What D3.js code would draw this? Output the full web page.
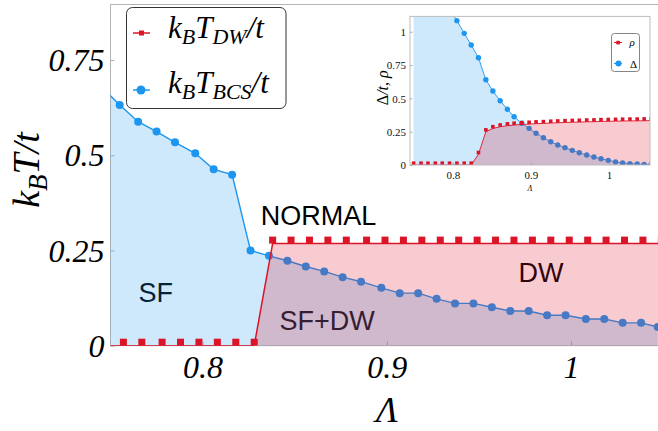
<!DOCTYPE html>
<html><head><meta charset="utf-8">
<script src="https://cdn.jsdelivr.net/npm/d3@7"></script>
<style>
html,body{margin:0;padding:0;background:#fff;}
svg{display:block;}
</style></head><body>
<svg id="chart" width="658" height="431"></svg>
<script>
// ---------------- data ----------------
const lambdaBCS = [0.745,0.755,0.765,0.775,0.785,0.796,0.806,0.816,0.826,0.836,0.846,0.856,0.866,0.876,0.886,0.897,0.907,0.917,0.927,0.937,0.947,0.957,0.967,0.977,0.987,0.997,1.008,1.018,1.028,1.038,1.047];
const tBCS = [0.68,0.632,0.588,0.562,0.534,0.505,0.463,0.449,0.250,0.236,0.223,0.208,0.195,0.180,0.168,0.152,0.138,0.138,0.123,0.111,0.111,0.101,0.091,0.091,0.080,0.080,0.070,0.070,0.060,0.060,0.049];
const lambdaDW = [0.747,0.757,0.767,0.778,0.788,0.798,0.808,0.818,0.828,0.838,0.848,0.858,0.868,0.878,0.889,0.899,0.909,0.919,0.929,0.939,0.949,0.959,0.969,0.979,0.989,0.999,1.009,1.019,1.029,1.039,1.049];
const tDW = [0,0,0,0,0,0,0,0,0,0.268,0.268,0.268,0.268,0.268,0.268,0.268,0.268,0.268,0.268,0.268,0.268,0.268,0.268,0.268,0.268,0.268,0.268,0.268,0.268,0.268,0.268];
const xTickValues = [0.8,0.9,1];
const xTickLabels = ["0.8","0.9","1"];
const yTickValues = [0,0.25,0.5,0.75];
const yTickLabels = ["0","0.25","0.5","0.75"];
const phaseNames = ["NORMAL","SF","SF+DW","DW"];

// inset
const lambdaInset = [0.7496,0.7591,0.768,0.7774,0.7863,0.7957,0.8051,0.8145,0.8234,0.8327,0.8422,0.8512,0.8605,0.8698,0.8784,0.8882,0.8976,0.9065,0.9159,0.9253,0.9343,0.9436,0.9529,0.9619,0.9714,0.9807,0.9897,0.999,1.0084,1.0174,1.0268,1.0361,1.045,1.054];
const deltaInset = [1.62,1.53,1.44,1.35,1.26,1.17,1.083,0.988,0.900,0.805,0.640,0.555,0.482,0.418,0.362,0.313,0.275,0.238,0.205,0.175,0.150,0.130,0.110,0.092,0.075,0.060,0.047,0.035,0.023,0.015,0.010,0.0075,0.005,0.003];
const rhoInset = [0,0,0,0,0,0,0,0,0,0.08,0.25,0.274,0.287,0.295,0.300,0.304,0.307,0.310,0.312,0.315,0.317,0.319,0.321,0.322,0.324,0.325,0.327,0.328,0.329,0.330,0.331,0.331,0.332,0.333];
const insetXTickValues = [0.8,0.9,1];
const insetXTickLabels = ["0.8","0.9","1"];
const insetYTickValues = [0,0.25,0.5,0.75,1];
const insetYTickLabels = ["0","0.25","0.5","0.75","1"];

// ---------------- styles ----------------
const BLUE = "#1e96f0", RED = "#dc1428", FRAME = "#b4b4b4";
const FILL_OP = 0.22;
const SERIF = "'Liberation Serif','Times New Roman',serif";
const SANS = "'Liberation Sans',Arial,sans-serif";

const svg = d3.select("#chart");

function rich(sel, parts, subSize, shift) {
  let cur = 0;
  parts.forEach(p => {
    const ts = sel.append("tspan").text(p.t);
    if (p.it === false) ts.attr("font-style", "normal");
    if (p.sub) { ts.attr("font-size", subSize).attr("dy", shift - cur); cur = shift; }
    else { ts.attr("dy", -cur); cur = 0; }
  });
}

// ---------------- main plot ----------------
const x = d3.scaleLinear().domain([0.75, 1.05]).range([110.5, 663.2]);
const y = d3.scaleLinear().domain([0, 0.897]).range([345.7, 4]);
const bcs = lambdaBCS.map((l, i) => ({x: l, y: tBCS[i]}));
const dw = lambdaDW.map((l, i) => ({x: l, y: tDW[i]}));

svg.append("clipPath").attr("id", "mainClip").append("rect")
  .attr("x", x.range()[0]).attr("y", y.range()[1])
  .attr("width", x.range()[1] - x.range()[0]).attr("height", y.range()[0] - y.range()[1]);

// axes
const gx = svg.append("g").attr("transform", `translate(0,${y(0)})`)
  .call(d3.axisBottom(x).tickValues(xTickValues).tickFormat((d, i) => xTickLabels[i]).tickSize(-4).tickPadding(0));
const gy = svg.append("g").attr("transform", `translate(${x.range()[0]},0)`)
  .call(d3.axisLeft(y).tickValues(yTickValues).tickFormat((d, i) => yTickLabels[i]).tickSize(-4).tickPadding(6));
[gx, gy].forEach(g => {
  g.select(".domain").remove();
  g.selectAll(".tick line").attr("stroke", FRAME);
  g.selectAll("text").attr("font-family", SERIF).attr("font-style", "italic")
    .attr("font-size", 32).attr("fill", "#000");
});
gx.selectAll("text").attr("y", 32.5).attr("dy", 0);
gy.selectAll("text").attr("dy", "0.33em");

// frame lines
const fr = svg.append("g").attr("stroke", FRAME).attr("stroke-width", 1).attr("fill", "none");
fr.append("line").attr("x1", x.range()[0]).attr("x2", x.range()[0]).attr("y1", y.range()[1]).attr("y2", y.range()[0]);
fr.append("line").attr("x1", x.range()[0]).attr("x2", x.range()[1]).attr("y1", y.range()[0]).attr("y2", y.range()[0]);
fr.append("line").attr("x1", x.range()[0]).attr("x2", x.range()[1]).attr("y1", y.range()[1] + 0.5).attr("y2", y.range()[1] + 0.5);

// phase labels (black, tinted by the fills drawn on top)
const lab = svg.append("g").attr("font-family", SANS).attr("font-size", 27).attr("fill", "#000");
lab.append("text").attr("x", x(0.8316)).attr("y", y(0.317)).text(phaseNames[0]);
lab.append("text").attr("x", x(0.7652)).attr("y", y(0.116)).text(phaseNames[1]);
lab.append("text").attr("x", x(0.8417)).attr("y", y(0.041)).text(phaseNames[2]);
lab.append("text").attr("x", x(0.9714)).attr("y", y(0.168)).text(phaseNames[3]);

const plot = svg.append("g").attr("clip-path", "url(#mainClip)");
const area = d3.area().x(d => x(d.x)).y0(y(0)).y1(d => y(d.y));
const line = d3.line().x(d => x(d.x)).y(d => y(d.y));

plot.append("path").datum(bcs).attr("d", area).attr("fill", BLUE).attr("fill-opacity", FILL_OP);
plot.append("path").datum(bcs).attr("d", line).attr("fill", "none").attr("stroke", BLUE).attr("stroke-width", 1.4);
plot.selectAll("circle.bcs").data(bcs).join("circle").attr("class", "bcs")
  .attr("cx", d => x(d.x)).attr("cy", d => y(d.y)).attr("r", 4).attr("fill", BLUE);
plot.append("path").datum(dw).attr("d", area).attr("fill", RED).attr("fill-opacity", FILL_OP);
plot.append("path").datum(dw).attr("d", line).attr("fill", "none").attr("stroke", RED).attr("stroke-width", 1.5);
const sq = 7;
plot.selectAll("rect.dw").data(dw).join("rect").attr("class", "dw")
  .attr("x", d => x(d.x) - sq / 2).attr("y", d => y(d.y) - sq).attr("width", sq).attr("height", sq).attr("fill", RED);

// axis titles
svg.append("text").attr("x", (x.range()[0] + x.range()[1]) / 2).attr("y", 422)
  .attr("text-anchor", "middle").attr("font-family", SERIF).attr("font-style", "italic")
  .attr("font-size", 36).text("Λ");
const yt = svg.append("text").attr("transform", "translate(39,170) rotate(-90)")
  .attr("text-anchor", "middle").attr("font-family", SERIF).attr("font-style", "italic").attr("font-size", 38);
rich(yt, [{t: "k"}, {t: "B", sub: true}, {t: "T/t"}], 27, 8);

// legend
const lg = svg.append("g");
lg.append("rect").attr("x", 126.5).attr("y", 7.5).attr("width", 159.5).attr("height", 101).attr("rx", 6)
  .attr("fill", "#fff").attr("stroke", "#333").attr("stroke-width", 1);
lg.append("line").attr("x1", 133).attr("x2", 150).attr("y1", 33).attr("y2", 33).attr("stroke", RED).attr("stroke-width", 1.5);
lg.append("rect").attr("x", 139).attr("y", 30.5).attr("width", 5).attr("height", 5).attr("fill", RED);
lg.append("line").attr("x1", 133).attr("x2", 150).attr("y1", 90).attr("y2", 90).attr("stroke", BLUE).attr("stroke-width", 1.5);
lg.append("circle").attr("cx", 141).attr("cy", 90).attr("r", 4.5).attr("fill", BLUE);
const l1 = lg.append("text").attr("x", 168).attr("y", 38).attr("font-family", SERIF).attr("font-style", "italic").attr("font-size", 31);
rich(l1, [{t: "k"}, {t: "B", sub: true}, {t: "T"}, {t: "DW", sub: true}, {t: "/t"}], 22, 6);
const l2 = lg.append("text").attr("x", 168).attr("y", 93).attr("font-family", SERIF).attr("font-style", "italic").attr("font-size", 31);
rich(l2, [{t: "k"}, {t: "B", sub: true}, {t: "T"}, {t: "BCS", sub: true}, {t: "/t"}], 22, 6);

// ---------------- inset ----------------
const xi = d3.scaleLinear().domain([0.745, 1.0525]).range([410, 650]);
const yi = d3.scaleLinear().domain([0, 1.115]).range([165, 16.4]);
const dInset = lambdaInset.map((l, i) => ({x: l, y: deltaInset[i]}));
const rInset = lambdaInset.map((l, i) => ({x: l, y: rhoInset[i]}));

svg.append("clipPath").attr("id", "insetClip").append("rect")
  .attr("x", xi.range()[0]).attr("y", yi.range()[1])
  .attr("width", xi.range()[1] - xi.range()[0]).attr("height", yi.range()[0] - yi.range()[1]);

const ins = svg.append("g");
ins.append("rect").attr("x", xi.range()[0]).attr("y", yi.range()[1])
  .attr("width", xi.range()[1] - xi.range()[0]).attr("height", yi.range()[0] - yi.range()[1]).attr("fill", "#fff");

const ip = ins.append("g").attr("clip-path", "url(#insetClip)");
const areaI = d3.area().x(d => xi(d.x)).y0(yi(0)).y1(d => yi(d.y));
const lineI = d3.line().x(d => xi(d.x)).y(d => yi(d.y));
ip.append("path").datum(dInset).attr("d", areaI).attr("fill", BLUE).attr("fill-opacity", FILL_OP);
ip.append("path").datum(dInset).attr("d", lineI).attr("fill", "none").attr("stroke", BLUE).attr("stroke-width", 0.9);
ip.selectAll("circle").data(dInset).join("circle")
  .attr("cx", d => xi(d.x)).attr("cy", d => yi(d.y)).attr("r", 2.7).attr("fill", BLUE);
ip.append("path").datum(rInset).attr("d", areaI).attr("fill", RED).attr("fill-opacity", FILL_OP);
ip.append("path").datum(rInset).attr("d", lineI).attr("fill", "none").attr("stroke", RED).attr("stroke-width", 0.9);
const sqi = 3.6;
ip.selectAll("rect").data(rInset).join("rect")
  .attr("x", d => xi(d.x) - sqi / 2).attr("y", d => yi(d.y) - sqi).attr("width", sqi).attr("height", sqi).attr("fill", RED);

ins.append("rect").attr("x", xi.range()[0]).attr("y", yi.range()[1])
  .attr("width", xi.range()[1] - xi.range()[0]).attr("height", yi.range()[0] - yi.range()[1])
  .attr("fill", "none").attr("stroke", "#bdbdbd").attr("stroke-width", 1);

const gxi = ins.append("g").attr("transform", `translate(0,${yi(0)})`)
  .call(d3.axisBottom(xi).tickValues(insetXTickValues).tickFormat((d, i) => insetXTickLabels[i]).tickSize(-2.5).tickPadding(0));
const gyi = ins.append("g").attr("transform", `translate(${xi.range()[0]},0)`)
  .call(d3.axisLeft(yi).tickValues(insetYTickValues).tickFormat((d, i) => insetYTickLabels[i]).tickSize(-2.5).tickPadding(4));
[gxi, gyi].forEach(g => {
  g.select(".domain").remove();
  g.selectAll(".tick line").attr("stroke", "#aaa");
  g.selectAll("text").attr("font-family", SERIF).attr("font-size", 11).attr("fill", "#111");
});
gxi.selectAll("text").attr("y", 13.5).attr("dy", 0);
gyi.selectAll("text").attr("dy", "0.33em");

const yti = ins.append("text").attr("transform", `translate(388,${(yi.range()[0] + yi.range()[1]) / 2 - 3}) rotate(-90)`)
  .attr("text-anchor", "middle").attr("font-family", SERIF).attr("font-style", "italic").attr("font-size", 16);
rich(yti, [{t: "Δ", it: false}, {t: "/t, ρ"}], 16, 0);
ins.append("text").attr("x", (xi.range()[0] + xi.range()[1]) / 2).attr("y", 191)
  .attr("text-anchor", "middle").attr("font-family", SERIF).attr("font-style", "italic").attr("font-size", 8).text("Λ");

// inset legend
const il = ins.append("g");
il.append("rect").attr("x", 611.5).attr("y", 33.5).attr("width", 28).attr("height", 38).attr("rx", 3)
  .attr("fill", "#fff").attr("stroke", "#666").attr("stroke-width", 0.8);
il.append("line").attr("x1", 614).attr("x2", 622).attr("y1", 42.5).attr("y2", 42.5).attr("stroke", RED).attr("stroke-width", 1);
il.append("rect").attr("x", 616.3).attr("y", 40.8).attr("width", 3.6).attr("height", 3.6).attr("fill", RED);
il.append("line").attr("x1", 614).attr("x2", 622).attr("y1", 63.5).attr("y2", 63.5).attr("stroke", BLUE).attr("stroke-width", 1);
il.append("circle").attr("cx", 618.5).attr("cy", 63.5).attr("r", 3).attr("fill", BLUE);
il.append("text").attr("x", 629.5).attr("y", 46).attr("font-family", SERIF).attr("font-style", "italic").attr("font-size", 11).text("ρ");
il.append("text").attr("x", 630).attr("y", 67.5).attr("font-family", SERIF).attr("font-size", 11).text("Δ");
</script>
</body></html>
